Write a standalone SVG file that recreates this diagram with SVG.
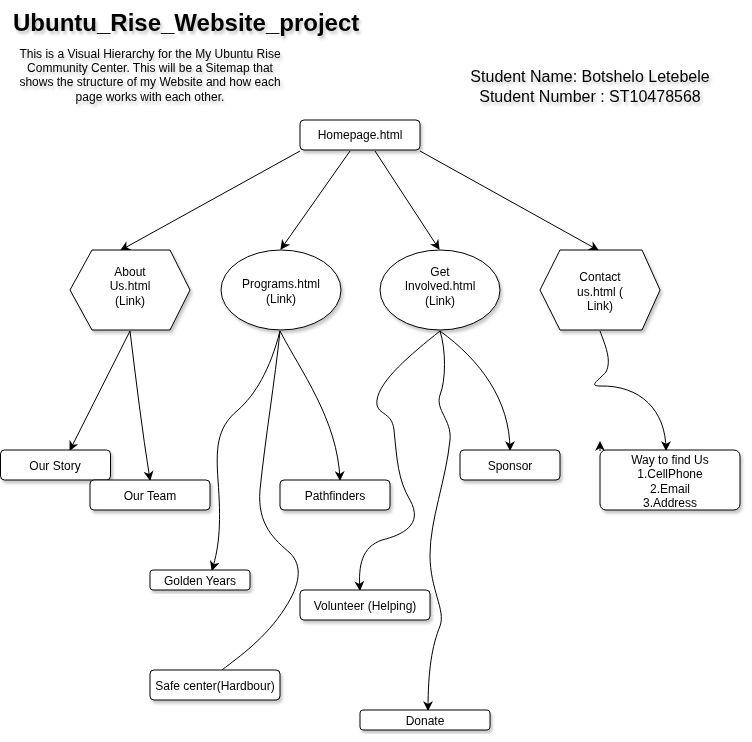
<svg xmlns="http://www.w3.org/2000/svg" width="752" height="742" viewBox="0 0 752 742">
<defs>
<filter id="sh" x="-20%" y="-20%" width="140%" height="140%">
<feDropShadow dx="2" dy="3" stdDeviation="1.5" flood-color="#000" flood-opacity="0.22"/>
</filter>
<marker id="arr" viewBox="0 0 10 10" refX="9" refY="5" markerWidth="10" markerHeight="10" markerUnits="userSpaceOnUse" orient="auto">
<path d="M0,0 L10,5 L0,10 L3,5 Z" fill="#000"/>
</marker>
</defs>
<style>
.n{fill:#fff;stroke:#000;stroke-width:1}
.t{font-family:"Liberation Sans",Arial,sans-serif;font-size:12px;fill:#000;text-anchor:middle}
.e{fill:none;stroke:#000;stroke-width:1;marker-end:url(#arr)}
.p{fill:none;stroke:#000;stroke-width:1}
</style>
<rect width="752" height="742" fill="#fff"/>
<g id="title" filter="url(#sh)">
<text x="13" y="31" style="font-family:'Liberation Sans',Arial,sans-serif;font-size:24px;font-weight:bold">Ubuntu_Rise_Website_project</text>
</g>
<g id="description" filter="url(#sh)">
<text class="t" x="150" y="58">This is a Visual Hierarchy for the My Ubuntu Rise</text>
<text class="t" x="150" y="72">Community Center. This will be a Sitemap that</text>
<text class="t" x="150" y="86">shows the structure of my Website and how each</text>
<text class="t" x="150" y="101">page works with each other.</text>
</g>
<g id="student" filter="url(#sh)">
<text class="t" x="590" y="82" style="font-size:16px">Student Name: Botshelo Letebele</text>
<text class="t" x="590" y="102" style="font-size:16px">Student Number : ST10478568</text>
</g>
<g id="connectors">
<path class="e" d="M300,151 L121,250"/>
<path class="e" d="M350,151 L281,249"/>
<path class="e" d="M375,151 L439,249"/>
<path class="e" d="M420,151 L598,250"/>
<path class="e" d="M130,331 L70,450"/>
<path class="e" d="M130,331 C136,380 142,430 150,480"/>
<path class="e" d="M280,331 C300,370 338,420 340,480"/>
<path class="e" d="M280,331 C270,370 255,395 238,410 C216,428 216,450 218,480 C221,520 220,545 212,570"/>
<path class="p" d="M280,331 C275,380 265,440 260,490 C257,525 275,540 290,553 C303,566 300,585 285,608 C266,638 240,656 222,670"/>
<path class="e" d="M440,331 C410,355 380,380 377,400 C375,416 392,410 394,430 C397,460 398,480 410,500 C424,525 402,535 382,540 C362,547 358,565 360,590"/>
<path class="e" d="M440,331 C446,350 446,380 440,395 C435,410 452,420 450,440 C446,480 430,520 430,555 C430,590 446,610 440,626 C432,646 428,670 428,710"/>
<path class="e" d="M440,331 C480,360 510,400 510,450"/>
<path class="e" d="M600,331 C605,345 612,360 606,372 C599,380 588,386 600,386 C640,385 666,410 666,450"/>
<path class="e" d="M600,451 L600,442"/>
</g>
<g id="homepage" filter="url(#sh)">
<rect class="n" x="300" y="120" width="120" height="30" rx="4"/>
<text class="t" x="360" y="139">Homepage.html</text>
</g>
<g id="about" filter="url(#sh)">
<polygon class="n" points="70,290 92,250 170,250 190,290 170,330 92,330"/>
<text class="t" x="130" y="276">About</text>
<text class="t" x="130" y="290">Us.html</text>
<text class="t" x="130" y="305">(Link)</text>
</g>
<g id="programs" filter="url(#sh)">
<ellipse class="n" cx="281" cy="290" rx="60" ry="40"/>
<text class="t" x="281" y="288">Programs.html</text>
<text class="t" x="281" y="303">(Link)</text>
</g>
<g id="getinvolved" filter="url(#sh)">
<ellipse class="n" cx="440" cy="290" rx="60" ry="40"/>
<text class="t" x="440" y="276">Get</text>
<text class="t" x="440" y="290">Involved.html</text>
<text class="t" x="440" y="305">(Link)</text>
</g>
<g id="contact" filter="url(#sh)">
<polygon class="n" points="540,290 560,250 642,250 660,290 642,330 560,330"/>
<text class="t" x="600" y="281">Contact</text>
<text class="t" x="600" y="296">us.html (</text>
<text class="t" x="600" y="310">Link)</text>
</g>
<g id="ourstory" filter="url(#sh)">
<rect class="n" x="0.5" y="450" width="110" height="30" rx="4"/>
<text class="t" x="55" y="470">Our Story</text>
</g>
<g id="ourteam" filter="url(#sh)">
<rect class="n" x="90" y="480" width="120" height="30" rx="4"/>
<text class="t" x="150" y="500">Our Team</text>
</g>
<g id="pathfinders" filter="url(#sh)">
<rect class="n" x="280" y="480" width="110" height="30" rx="4"/>
<text class="t" x="335" y="500">Pathfinders</text>
</g>
<g id="sponsor" filter="url(#sh)">
<rect class="n" x="460" y="450" width="100" height="30" rx="4"/>
<text class="t" x="510" y="470">Sponsor</text>
</g>
<g id="wayfind" filter="url(#sh)">
<rect class="n" x="600" y="450" width="140" height="60" rx="6"/>
<text class="t" x="670" y="464">Way to find Us</text>
<text class="t" x="670" y="478">1.CellPhone</text>
<text class="t" x="670" y="493">2.Email</text>
<text class="t" x="670" y="507">3.Address</text>
</g>
<g id="goldenyears" filter="url(#sh)">
<rect class="n" x="150" y="570" width="100" height="20" rx="3"/>
<text class="t" x="200" y="585">Golden Years</text>
</g>
<g id="volunteer" filter="url(#sh)">
<rect class="n" x="300" y="590" width="130" height="30" rx="4"/>
<text class="t" x="365" y="610">Volunteer (Helping)</text>
</g>
<g id="safecenter" filter="url(#sh)">
<rect class="n" x="150" y="670" width="130" height="30" rx="4"/>
<text class="t" x="215" y="690">Safe center(Hardbour)</text>
</g>
<g id="donate" filter="url(#sh)">
<rect class="n" x="360" y="710" width="130" height="20" rx="3"/>
<text class="t" x="425" y="725">Donate</text>
</g>
</svg>
